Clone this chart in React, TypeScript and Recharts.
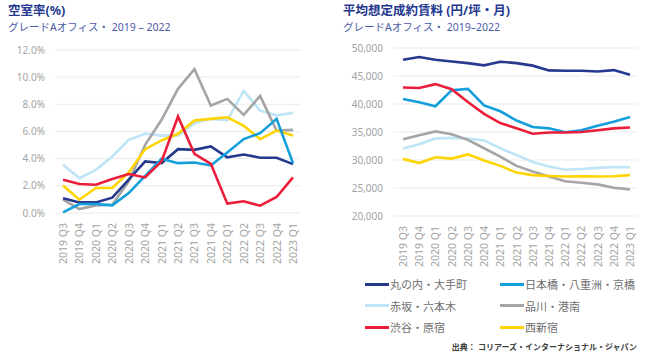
import React from 'react';
import { LineChart, Line, XAxis, YAxis, CartesianGrid } from 'recharts';

const quarters = [
  '2019 Q3', '2019 Q4', '2020 Q1', '2020 Q2', '2020 Q3', '2020 Q4', '2021 Q1', '2021 Q2',
  '2021 Q3', '2021 Q4', '2022 Q1', '2022 Q2', '2022 Q3', '2022 Q4', '2023 Q1',
];

// 空室率 (%)
const vacMarunouchi = [1.08, 0.78, 0.78, 1.13, 2.45, 3.8, 3.67, 4.7, 4.65, 4.9, 4.1, 4.3, 4.07, 4.07, 3.6];
const vacNihonbashi = [0.05, 0.66, 0.66, 0.56, 1.47, 2.74, 4.0, 3.67, 3.72, 3.5, 4.45, 5.44, 5.88, 6.93, 3.67];
const vacAkasaka = [3.55, 2.57, 3.18, 4.16, 5.39, 5.83, 5.7, 5.7, 6.6, 6.93, 6.83, 8.99, 7.54, 7.18, 7.37];
const vacShinagawa = [0.98, 0.29, 0.56, 0.61, 2.33, 5.02, 6.86, 9.14, 10.58, 7.91, 8.4, 7.22, 8.62, 6.07, 6.12];
const vacShibuya = [2.45, 2.13, 2.08, 2.5, 2.87, 2.62, 3.8, 7.1, 4.36, 3.62, 0.69, 0.86, 0.54, 1.18, 2.62];
const vacNishishinjuku = [2.03, 0.98, 1.84, 1.84, 2.99, 4.7, 5.34, 5.83, 6.81, 6.93, 7.05, 6.42, 5.44, 6.07, 5.7];
const vacTicks = [0, 2, 4, 6, 8, 10, 12];

// 平均想定成約賃料 (円/坪・月)
const rentMarunouchi = [47900, 48400, 47900, 47600, 47300, 46900, 47550, 47300, 46850, 46000, 45950, 45950, 45800, 46050, 45230];
const rentNihonbashi = [40900, 40300, 39600, 42450, 42700, 39750, 38700, 37050, 35900, 35650, 34950, 35300, 36100, 36850, 37700];
const rentAkasaka = [32050, 32800, 33850, 33950, 33850, 33500, 32100, 30900, 29650, 28850, 28250, 28400, 28600, 28750, 28700];
const rentShinagawa = [33700, 34400, 35100, 34600, 33600, 32100, 30600, 28950, 27950, 27050, 26200, 25950, 25650, 25050, 24750];
const rentShibuya = [42950, 42850, 43550, 42650, 40350, 38250, 36600, 35650, 34700, 34900, 34900, 35000, 35300, 35650, 35800];
const rentNishishinjuku = [30200, 29450, 30500, 30250, 31000, 29900, 28950, 27750, 27300, 27150, 27050, 27100, 27050, 27100, 27300];
const rentTicks = [20000, 25000, 30000, 35000, 40000, 45000, 50000];

const series = [
  { key: 'akasaka', name: '赤坂・六本木', color: '#bde5f6' },
  { key: 'shinagawa', name: '品川・港南', color: '#a5a5a5' },
  { key: 'nishishinjuku', name: '西新宿', color: '#ffd400' },
  { key: 'marunouchi', name: '丸の内・大手町', color: '#253a8e' },
  { key: 'nihonbashi', name: '日本橋・八重洲・京橋', color: '#139fdb' },
  { key: 'shibuya', name: '渋谷・原宿', color: '#ea1d3a' },
];

const legendOrder = ['marunouchi', 'nihonbashi', 'akasaka', 'shinagawa', 'shibuya', 'nishishinjuku'];

const vacancyData = quarters.map((q, i) => ({
  q,
  marunouchi: vacMarunouchi[i],
  nihonbashi: vacNihonbashi[i],
  akasaka: vacAkasaka[i],
  shinagawa: vacShinagawa[i],
  shibuya: vacShibuya[i],
  nishishinjuku: vacNishishinjuku[i],
}));

const rentData = quarters.map((q, i) => ({
  q,
  marunouchi: rentMarunouchi[i],
  nihonbashi: rentNihonbashi[i],
  akasaka: rentAkasaka[i],
  shinagawa: rentShinagawa[i],
  shibuya: rentShibuya[i],
  nishishinjuku: rentNishishinjuku[i],
}));

const FONT = '"Noto Sans", "Noto Sans CJK JP", sans-serif';
const TICK_COLOR = '#a3a3a3';

function QuarterTick(props: any) {
  const { x, y, payload } = props;
  return (
    <text
      transform={`translate(${x},${y + 2}) rotate(-90)`}
      textAnchor="end"
      dominantBaseline="central"
      fill={TICK_COLOR}
      fontSize={10.5}
      fontFamily={FONT}
    >
      {payload.value}
    </text>
  );
}

function Titles({ left, title, sub }: { left: number; title: string; sub: string }) {
  return (
    <>
      <div style={{ position: 'absolute', left, top: 3, height: 15, lineHeight: '15px', fontSize: 12.5, fontWeight: 700, color: '#25398f', whiteSpace: 'nowrap' }}>
        {title}
      </div>
      <div style={{ position: 'absolute', left, top: 21, height: 13, lineHeight: '13px', fontSize: 10.5, color: '#4a5ba8', whiteSpace: 'nowrap' }}>
        {sub}
      </div>
    </>
  );
}

export default function App() {
  const legendItems = legendOrder.map((k) => series.find((s) => s.key === k)!);

  return (
    <div style={{ position: 'absolute', left: 0, top: 0, width: 650, height: 358, background: '#fff', fontFamily: FONT }}>
      <Titles left={8} title="空室率(%)" sub="グレードAオフィス・ 2019 – 2022" />
      <Titles left={343} title="平均想定成約賃料 (円/坪・月)" sub="グレードAオフィス・ 2019–2022" />

      <div style={{ position: 'absolute', left: 0, top: 40 }}>
        <LineChart width={308} height={270} data={vacancyData} margin={{ top: 10, right: 8, bottom: 45, left: 0 }}>
          <CartesianGrid vertical={false} stroke="#ebebeb" />
          <XAxis
            dataKey="q"
            axisLine={false}
            tickLine={false}
            interval={0}
            height={52}
            padding={{ left: 8, right: 7 }}
            tick={<QuarterTick />}
          />
          <YAxis
            domain={[0, 12]}
            ticks={vacTicks}
            width={55}
            axisLine={false}
            tickLine={false}
            tickMargin={4}
            tick={{ fill: TICK_COLOR, fontSize: 10, fontFamily: FONT }}
            tickFormatter={(v: number) => `${v.toFixed(1)}%`}
          />
          {series.map((s) => (
            <Line
              key={s.key}
              type="linear"
              dataKey={s.key}
              name={s.name}
              stroke={s.color}
              strokeWidth={2.6}
              dot={false}
              isAnimationActive={false}
            />
          ))}
        </LineChart>
      </div>

      <div style={{ position: 'absolute', left: 330, top: 40 }}>
        <LineChart width={315} height={270} data={rentData} margin={{ top: 8, right: 8, bottom: 42, left: 0 }}>
          <CartesianGrid vertical={false} stroke="#ebebeb" />
          <XAxis
            dataKey="q"
            axisLine={false}
            tickLine={false}
            interval={0}
            height={52}
            padding={{ left: 10, right: 7 }}
            tick={<QuarterTick />}
          />
          <YAxis
            domain={[20000, 50000]}
            ticks={rentTicks}
            width={63}
            axisLine={false}
            tickLine={false}
            tickMargin={4}
            tick={{ fill: TICK_COLOR, fontSize: 10, fontFamily: FONT }}
            tickFormatter={(v: number) => v.toLocaleString('en-US')}
          />
          {series.map((s) => (
            <Line
              key={s.key}
              type="linear"
              dataKey={s.key}
              name={s.name}
              stroke={s.color}
              strokeWidth={2.6}
              dot={false}
              isAnimationActive={false}
            />
          ))}
        </LineChart>
      </div>

      {legendItems.map((s, i) => {
        const col = i % 2;
        const row = Math.floor(i / 2);
        const left = col === 0 ? 365 : 500;
        const cy = 284 + row * 21.5;
        return (
          <div key={s.key} style={{ position: 'absolute', left, top: cy - 8, height: 16, display: 'flex', alignItems: 'center', whiteSpace: 'nowrap' }}>
            <span style={{ display: 'inline-block', width: 24, height: 3, background: s.color }} />
            <span style={{ marginLeft: 1, fontSize: 11, color: '#6e6e6e' }}>{s.name}</span>
          </div>
        );
      })}

      <div style={{ position: 'absolute', right: 13, top: 341, fontSize: 8, fontWeight: 700, color: '#404040', whiteSpace: 'nowrap' }}>
        出典： コリアーズ・インターナショナル・ジャパン
      </div>
    </div>
  );
}
